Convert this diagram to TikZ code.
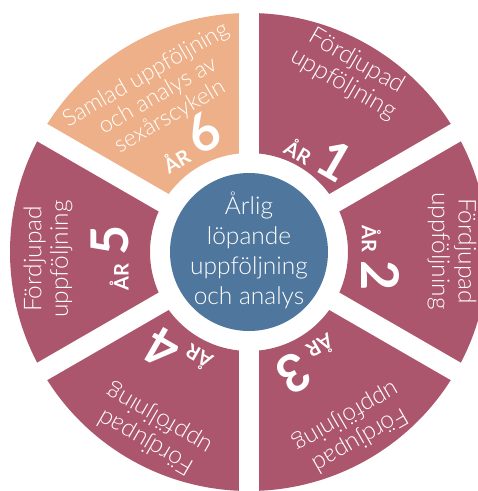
\documentclass[tikz,border=0pt]{standalone}
\usepackage{fontspec}
\setmainfont{Lato}[UprightFont={* Light}, BoldFont={* Bold}]
\definecolor{maroon}{HTML}{AC566E}
\definecolor{peach}{HTML}{EEB088}
\definecolor{steel}{HTML}{4F769C}
\tikzset{
  seg/.style={fill=maroon},
  gapline/.style={draw=white, line width=20pt},
  lbl/.style={text=white, align=center, font=\fontsize{24.5}{26.5}\selectfont, inner sep=0pt},
  lblsmall/.style={text=white, align=center, font=\fontsize{23}{24}\selectfont, inner sep=0pt},
  yr/.style={text=white, inner sep=0pt, font=\bfseries},
}
\newcommand{\yrtext}[1]{{\fontsize{20}{20}\selectfont\bfseries ÅR}\hspace{8pt}{\fontsize{52}{52}\selectfont\bfseries #1}}
\begin{document}
\begin{tikzpicture}[x=1pt,y=1pt]
\useasboundingbox (-249,-239) rectangle (229,252);
\def\ri{99}
\def\ro{239}
% sectors
\fill[seg] (90:\ri) arc[start angle=90,end angle=30,radius=\ri] -- (30:\ro) arc[start angle=30,end angle=90,radius=\ro] -- cycle;
\fill[seg] (30:\ri) arc[start angle=30,end angle=-30,radius=\ri] -- (-30:\ro) arc[start angle=-30,end angle=30,radius=\ro] -- cycle;
\fill[seg] (-30:\ri) arc[start angle=-30,end angle=-90,radius=\ri] -- (-90:\ro) arc[start angle=-90,end angle=-30,radius=\ro] -- cycle;
\fill[seg] (-90:\ri) arc[start angle=-90,end angle=-150,radius=\ri] -- (-150:\ro) arc[start angle=-150,end angle=-90,radius=\ro] -- cycle;
\fill[seg] (150:\ri) arc[start angle=150,end angle=210,radius=\ri] -- (210:\ro) arc[start angle=210,end angle=150,radius=\ro] -- cycle;
\fill[peach] (90:\ri) arc[start angle=90,end angle=150,radius=\ri] -- (150:\ro) arc[start angle=150,end angle=90,radius=\ro] -- cycle;
% gaps
\foreach \a in {90,30,-30,-90,-150,150} \draw[gapline] (0,0) -- (\a:250);
% centre
\fill[steel] (0,0) circle[radius=79];
\node[text=white, align=center, font=\fontsize{24.5}{30}\selectfont, inner sep=0pt] (c) at (0,2) {Årlig\\löpande\\uppföljning\\och analys};
% sector texts
\node[lbl, rotate=-30] (t1) at (101,179) {Fördjupad\\uppföljning};
\node[lbl, rotate=-90] (t2) at (203,1) {Fördjupad\\uppföljning};
\node[lbl, rotate=-150] (t3) at (104,-176) {Fördjupad\\uppföljning};
\node[lbl, rotate=150] (t4) at (-96,-178) {Fördjupad\\uppföljning};
\node[lbl, rotate=90] (t5) at (-201,-7) {Fördjupad\\uppföljning};
\node[lblsmall, rotate=30] (t6) at (-91,156) {Samlad uppföljning\\och analys av\\sexårscykeln};
% years
\node[yr, rotate=-30] (y1) at (71,100) {\yrtext{1}};
\node[yr, rotate=-90] (y2) at (132,-6) {\yrtext{2}};
\node[yr, rotate=-150] (y3) at (60,-113) {\yrtext{3}};
\node[yr, rotate=150] (y4) at (-72,-105) {\yrtext{4}};
\node[yr, rotate=90] (y5) at (-139,-6) {\yrtext{5}};
\node[yr, rotate=30] (y6) at (-61,110) {\yrtext{6}};
\end{tikzpicture}
\end{document}
